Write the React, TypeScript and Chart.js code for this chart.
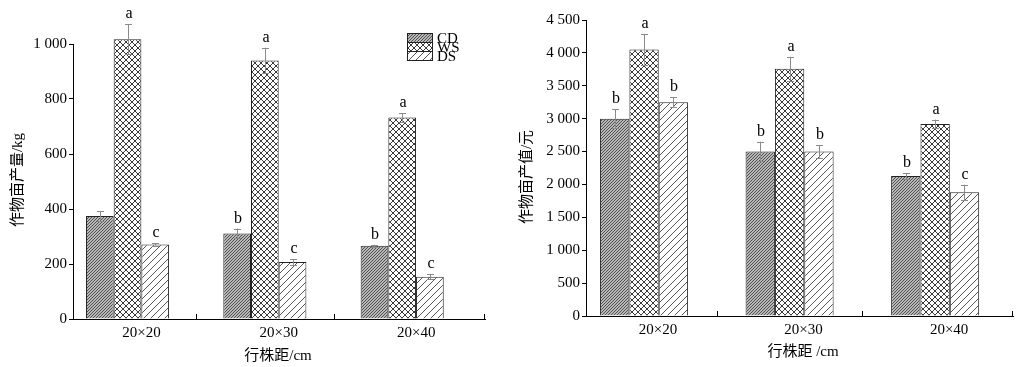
import React, { useEffect, useRef } from 'react';
import { Chart, registerables } from 'chart.js';

Chart.register(...registerables);

const categories = ['20×20', '20×30', '20×40'];
const seriesNames = ['CD', 'WS', 'DS'];

// Left chart: crop yield per mu (kg)
const yieldCD = [375, 311, 266];
const yieldWS = [1017, 940, 733];
const yieldDS = [271, 207, 154];
const yieldErrCD = [17, 18, 4];
const yieldErrWS = [55, 46, 15];
const yieldErrDS = [4, 10, 10];
const yieldLettersCD = ['', 'b', 'b'];
const yieldLettersWS = ['a', 'a', 'a'];
const yieldLettersDS = ['c', 'c', 'c'];

// Right chart: crop output value per mu (yuan)
const valueCD = [3000, 2500, 2130];
const valueWS = [4050, 3760, 2920];
const valueDS = [3250, 2500, 1880];
const valueErrCD = [140, 150, 40];
const valueErrWS = [230, 180, 65];
const valueErrDS = [75, 95, 115];
const valueLettersCD = ['b', 'b', 'b'];
const valueLettersWS = ['a', 'a', 'a'];
const valueLettersDS = ['b', 'b', 'c'];

const SERIF = "'Liberation Serif', 'Times New Roman', serif";
const TITLE_FONT = "15px 'Liberation Serif', 'Noto Sans CJK SC', serif";

function fmtThousands(v: number): string {
  if (v >= 1000) {
    const t = Math.floor(v / 1000);
    const r = String(v % 1000).padStart(3, '0');
    return `${t} ${r}`;
  }
  return String(v);
}

function makePattern(target: CanvasRenderingContext2D, kind: string): CanvasPattern | string {
  const c = document.createElement('canvas');
  const ctx = c.getContext('2d')!;
  if (kind === 'CD') {
    c.width = 3; c.height = 3;
    ctx.fillStyle = '#b8b8b8';
    ctx.fillRect(0, 0, 3, 3);
    ctx.fillStyle = '#505050';
    for (let i = 0; i < 3; i++) ctx.fillRect(i, 2 - i, 1, 1);
  } else if (kind === 'WS') {
    c.width = 6; c.height = 6;
    ctx.fillStyle = '#ffffff';
    ctx.fillRect(0, 0, 6, 6);
    ctx.fillStyle = '#3a3a3a';
    for (let i = 0; i < 6; i++) {
      ctx.fillRect(i, i, 1, 1);
      ctx.fillRect(i, 5 - i, 1, 1);
    }
  } else {
    c.width = 7; c.height = 7;
    ctx.fillStyle = '#ffffff';
    ctx.fillRect(0, 0, 7, 7);
    ctx.fillStyle = '#555555';
    for (let i = 0; i < 7; i++) ctx.fillRect(i, 6 - i, 1, 1);
  }
  return target.createPattern(c, 'repeat') || '#fff';
}

interface PanelCfg {
  width: number;
  height: number;
  padding: { top: number; right: number; bottom: number; left: number };
  yWidth: number;
  xHeight: number;
  yMax: number;
  yStep: number;
  xMin: number;
  xMax: number;
  values: number[][];
  errors: number[][];
  letters: string[][];
  yTitle: string;
  yTitleX: number;
  yTitleY: number;
  xTitle: string;
  xTitleX: number;
  xTitleY: number;
  xTickPadding: number;
  legend: boolean;
}

function buildChart(canvas: HTMLCanvasElement, cfg: PanelCfg): Chart {
  const ctx0 = canvas.getContext('2d')!;
  const patterns = seriesNames.map((n) => makePattern(ctx0, n));

  const overlay = {
    id: 'overlay',
    afterDatasetsDraw(chart: any) {
      const ctx = chart.ctx as CanvasRenderingContext2D;
      const ys = chart.scales.y;
      const xs = chart.scales.x;
      ctx.save();
      chart.data.datasets.forEach((ds: any, di: number) => {
        const meta = chart.getDatasetMeta(di);
        meta.data.forEach((bar: any, i: number) => {
          const v = cfg.values[di][i];
          const e = cfg.errors[di][i];
          const yt = ys.getPixelForValue(v + e);
          const yb = ys.getPixelForValue(v - e);
          const x = Math.round(bar.x);
          ctx.strokeStyle = '#8a8a8a';
          ctx.lineWidth = 1;
          ctx.beginPath();
          ctx.moveTo(x + 0.5, yt);
          ctx.lineTo(x + 0.5, yb);
          ctx.moveTo(x - 3, Math.round(yt) + 0.5);
          ctx.lineTo(x + 4, Math.round(yt) + 0.5);
          ctx.moveTo(x - 3, Math.round(yb) + 0.5);
          ctx.lineTo(x + 4, Math.round(yb) + 0.5);
          ctx.stroke();
          const letter = cfg.letters[di][i];
          if (letter) {
            ctx.fillStyle = '#000';
            ctx.font = `16px ${SERIF}`;
            ctx.textAlign = 'center';
            ctx.textBaseline = 'alphabetic';
            ctx.fillText(letter, x + 1, yt - 6);
          }
        });
      });
      const yb = chart.chartArea.bottom;
      ctx.strokeStyle = '#000';
      ctx.lineWidth = 1;
      ctx.beginPath();
      [0.5, 1.5, cfg.xMax].forEach((t) => {
        const px = Math.round(xs.getPixelForValue(t)) + (t === cfg.xMax ? -0.5 : 0.5);
        ctx.moveTo(px, yb);
        ctx.lineTo(px, yb - 5);
      });
      ctx.stroke();
      ctx.fillStyle = '#000';
      ctx.font = TITLE_FONT;
      ctx.textAlign = 'center';
      ctx.textBaseline = 'middle';
      ctx.fillText(cfg.xTitle, cfg.xTitleX, cfg.xTitleY);
      ctx.save();
      ctx.translate(cfg.yTitleX, cfg.yTitleY);
      ctx.rotate(-Math.PI / 2);
      ctx.fillText(cfg.yTitle, 0, 0);
      ctx.restore();
      if (cfg.legend) {
        const lx = 407, ly = 33, bw = 25, bh = 9;
        seriesNames.forEach((name, k) => {
          const y0 = ly + k * bh;
          ctx.fillStyle = patterns[k] as any;
          ctx.fillRect(lx, y0, bw, bh);
          ctx.strokeStyle = '#222';
          ctx.strokeRect(lx + 0.5, y0 + 0.5, bw, bh);
          ctx.fillStyle = '#000';
          ctx.font = `15px ${SERIF}`;
          ctx.textAlign = 'left';
          ctx.textBaseline = 'alphabetic';
          ctx.fillText(name, lx + 30, y0 + bh + 1);
        });
      }
      ctx.restore();
    },
  };

  const datasets = seriesNames.map((name, di) => ({
    label: name,
    data: cfg.values[di].map((v, i) => ({ x: i, y: v })),
    backgroundColor: patterns[di] as any,
    borderColor: '#222',
    borderWidth: 1,
    categoryPercentage: 0.605,
    barPercentage: 1,
    clip: false as any,
  }));

  return new Chart(canvas, {
    type: 'bar',
    data: { datasets },
    options: {
      responsive: false,
      animation: false,
      devicePixelRatio: 1,
      layout: { padding: cfg.padding },
      plugins: { legend: { display: false }, tooltip: { enabled: false } },
      scales: {
        x: {
          type: 'linear',
          offset: false,
          min: cfg.xMin,
          max: cfg.xMax,
          afterFit: (s: any) => { s.height = cfg.xHeight; },
          afterBuildTicks: (s: any) => { s.ticks = categories.map((_, i) => ({ value: i })); },
          grid: { display: false, offset: false, drawTicks: false, tickLength: 0 },
          border: { display: true, color: '#000', width: 1 },
          ticks: {
            autoSkip: false,
            maxRotation: 0,
            padding: cfg.xTickPadding,
            labelOffset: 14,
            color: '#000',
            font: { family: SERIF, size: 15 },
            callback: (v: any) => categories[Math.round(Number(v))] ?? '',
          },
        },
        y: {
          min: 0,
          max: cfg.yMax,
          afterFit: (s: any) => { s.width = cfg.yWidth; },
          grid: { display: true, drawOnChartArea: false, drawTicks: true, tickLength: 4, color: '#000' },
          border: { display: true, color: '#000', width: 1 },
          ticks: {
            stepSize: cfg.yStep,
            padding: 2,
            color: '#000',
            font: { family: SERIF, size: 15 },
            callback: (v: any) => fmtThousands(Number(v)),
          },
        },
      },
    },
    plugins: [overlay],
  } as any);
}

const leftCfg: PanelCfg = {
  width: 500,
  height: 367,
  padding: { top: 44, right: 15, bottom: 0, left: 0 },
  yWidth: 73,
  xHeight: 48,
  yMax: 1000,
  yStep: 200,
  xMin: -0.397,
  xMax: 2.603,
  values: [yieldCD, yieldWS, yieldDS],
  errors: [yieldErrCD, yieldErrWS, yieldErrDS],
  letters: [yieldLettersCD, yieldLettersWS, yieldLettersDS],
  yTitle: '作物亩产量/kg',
  yTitleX: 18,
  yTitleY: 180,
  xTitle: '行株距/cm',
  xTitleX: 278,
  xTitleY: 356,
  xTickPadding: 5,
  legend: true,
};

const rightCfg: PanelCfg = {
  width: 516,
  height: 367,
  padding: { top: 20, right: 3, bottom: 0, left: 0 },
  yWidth: 86,
  xHeight: 51,
  yMax: 4500,
  yStep: 500,
  xMin: -0.399,
  xMax: 2.535,
  values: [valueCD, valueWS, valueDS],
  errors: [valueErrCD, valueErrWS, valueErrDS],
  letters: [valueLettersCD, valueLettersWS, valueLettersDS],
  yTitle: '作物亩产值/元',
  yTitleX: 27,
  yTitleY: 177,
  xTitle: '行株距 /cm',
  xTitleX: 303,
  xTitleY: 352,
  xTickPadding: 5,
  legend: false,
};

function Panel({ cfg, left }: { cfg: PanelCfg; left: number }) {
  const ref = useRef<HTMLCanvasElement>(null);
  useEffect(() => {
    if (!ref.current) return;
    const chart = buildChart(ref.current, cfg);
    return () => chart.destroy();
  }, [cfg]);
  return (
    <canvas
      ref={ref}
      width={cfg.width}
      height={cfg.height}
      style={{ position: 'absolute', left, top: 0, width: cfg.width, height: cfg.height, display: 'block' }}
    />
  );
}

export default function App() {
  return (
    <div style={{ position: 'absolute', left: 0, top: 0, width: 1016, height: 367, background: '#fff' }}>
      <Panel cfg={leftCfg} left={0} />
      <Panel cfg={rightCfg} left={500} />
    </div>
  );
}
